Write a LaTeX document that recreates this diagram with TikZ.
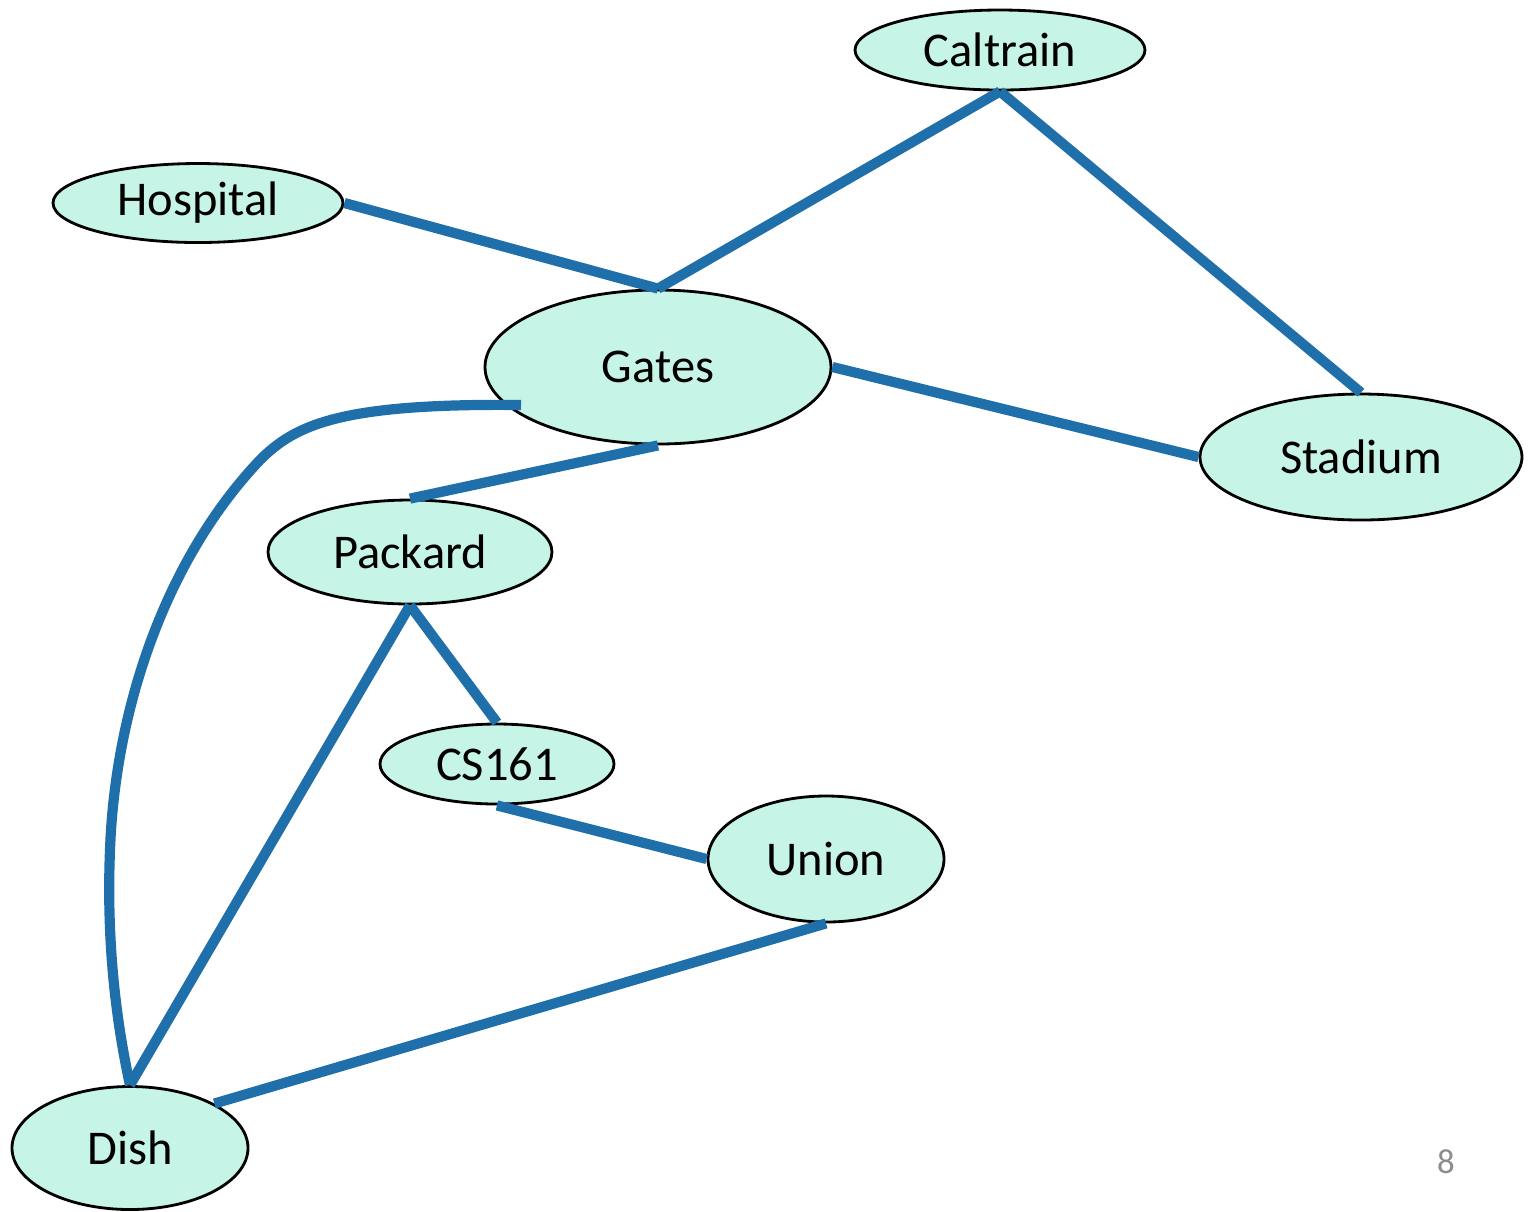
\documentclass[tikz,border=0pt]{standalone}
\usepackage{fontspec}
\setmainfont{Carlito}
\usepackage{tikz}
\usetikzlibrary{shapes.geometric}
\definecolor{placefill}{HTML}{C6F4E6}
\definecolor{roadblue}{HTML}{1F6FAA}
\definecolor{pagegray}{HTML}{8C8C8C}
\tikzset{place/.style={ellipse,draw=black,thick,fill=placefill,inner sep=0pt,font=\fontsize{13.8}{16}\selectfont},
	road/.style={roadblue,line width=2.9pt}}

\begin{document}
\begin{tikzpicture}
	\useasboundingbox (0,0) rectangle (15.29,-12.11);

\node[place,minimum width=2.90cm,minimum height=0.80cm] (Caltrain) at (10.00,-0.50) {Caltrain};
\node[place,minimum width=2.90cm,minimum height=0.79cm] (Hospital) at (1.98,-2.03) {Hospital};
\node[place,minimum width=3.46cm,minimum height=1.54cm] (Gates) at (6.58,-3.67) {Gates};
\node[place,minimum width=3.22cm,minimum height=1.26cm] (Stadium) at (13.61,-4.57) {Stadium};
\node[place,minimum width=2.84cm,minimum height=1.04cm] (Packard) at (4.10,-5.52) {Packard};
\node[place,minimum width=2.34cm,minimum height=0.80cm] (CS161) at (4.97,-7.64) {CS161};
\node[place,minimum width=2.36cm,minimum height=1.26cm] (Union) at (8.26,-8.59) {Union};
\node[place,minimum width=2.36cm,minimum height=1.23cm] (Dish) at (1.30,-11.48) {Dish};

\foreach \a/\b in {Caltrain.south/Gates.north, Caltrain.south/Stadium.north,
	Hospital.east/Gates.north, Gates.east/Stadium.west, Gates.south/Packard.north,
	Packard.south/CS161.north, Packard.south/Dish.north, CS161.south/Union.west,
	Union.south/Dish.north east}
     \draw [road] (\a) -- (\b);

\coordinate (gatesleft) at (5.21,-4.05);
\draw [road] (gatesleft) .. controls (3.40,-4.03) and (2.95,-4.25) .. (2.60,-4.60)
	.. controls (1.65,-5.60) and (1.15,-7.10) .. (1.10,-8.50)
	.. controls (1.06,-9.50) and (1.18,-10.30) .. (Dish.north);

               \node[text=pagegray,font=\fontsize{9.9}{12}\selectfont] (pagenum) at (14.46,-11.62) {8};

\end{tikzpicture}
\end{document}
